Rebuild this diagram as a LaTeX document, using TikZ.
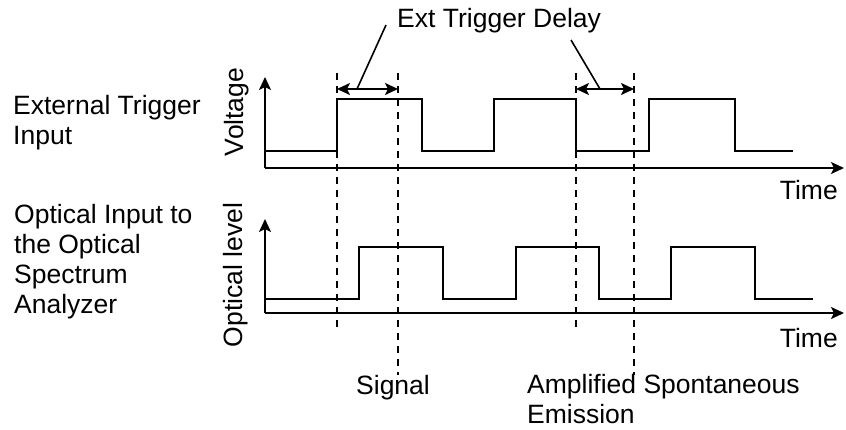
\documentclass[tikz,border=0pt]{standalone}
\usepackage{fontspec}
\setmainfont{Liberation Sans}
\usetikzlibrary{arrows.meta}
\begin{document}
\begin{tikzpicture}[x=1pt,y=-1pt,
  lbl/.style={font=\fontsize{26.5}{30}\selectfont, inner sep=0pt},
  wave/.style={line width=2pt, line join=miter},
  axis/.style={line width=2pt, -{Stealth[length=13pt,width=12pt,inset=3pt]}},
  guide/.style={line width=2pt, dash pattern=on 7pt off 6pt},
  delay/.style={line width=2pt, {Stealth[length=13pt,width=12pt,inset=3pt]}-{Stealth[length=13pt,width=12pt,inset=3pt]}},
  leader/.style={line width=1.6pt}]
\useasboundingbox (0,0) rectangle (846,429);

% axes
\coordinate (o1) at (265,168);
\coordinate (y1) at (265,77);
\coordinate (x1) at (844,168);
\coordinate (o2) at (265,313);
\coordinate (y2) at (265,219);
\coordinate (x2) at (844,313);
\draw[axis] (o1) -- (y1);
\draw[axis] (o1) -- (x1);
\draw[axis] (o2) -- (y2);
\draw[axis] (o2) -- (x2);

% waveforms
\draw[wave] (265,151) -- (337,151) -- (337,99) -- (422,99) -- (422,151) -- (494,151) -- (494,99) -- (576,99) -- (576,151) -- (649,151) -- (649,99) -- (735,99) -- (735,151) -- (793,151);
\draw[wave] (265,299) -- (359,299) -- (359,247) -- (443,247) -- (443,299) -- (516,299) -- (516,247) -- (599,247) -- (599,299) -- (671,299) -- (671,247) -- (755,247) -- (755,299) -- (813,299);

% guide lines
\coordinate (g1t) at (337,73);  \coordinate (g1b) at (337,333);
\coordinate (g2t) at (398,73);  \coordinate (g2b) at (398,375);
\coordinate (g3t) at (576,73);  \coordinate (g3b) at (576,333);
\coordinate (g4t) at (634,73);  \coordinate (g4b) at (634,375);
\draw[guide] (g1t) -- (g1b);
\draw[guide] (g2t) -- (g2b);
\draw[guide] (g3t) -- (g3b);
\draw[guide] (g4t) -- (g4b);

% delay arrows
\coordinate (d1a) at (337,89); \coordinate (d1b) at (398,89);
\coordinate (d2a) at (576,89); \coordinate (d2b) at (634,89);
\draw[delay] (d1a) -- (d1b);
\draw[delay] (d2a) -- (d2b);

% labels
\node[lbl, anchor=base west] (etd) at (397,27) {Ext Trigger Delay};
\coordinate (l1t) at (386,25); \coordinate (l1b) at (357,89);
\coordinate (l2t) at (571,40); \coordinate (l2b) at (600,89);
\draw[leader] (l1t) -- (l1b);
\draw[leader] (l2t) -- (l2b);

\node[lbl, anchor=base west] (eti1) at (13,114) {External Trigger};
\node[lbl, anchor=base west] (eti2) at (13,144) {Input};
\node[lbl, anchor=base west] (oi1) at (14,223) {Optical Input to};
\node[lbl, anchor=base west] (oi2) at (14,253) {the Optical};
\node[lbl, anchor=base west] (oi3) at (14,283) {Spectrum};
\node[lbl, anchor=base west] (oi4) at (14,313) {Analyzer};

\node[lbl, rotate=90, anchor=base] (volt) at (243,112) {Voltage};
\node[lbl, rotate=90, anchor=base] (opt) at (242,275) {Optical level};

\node[lbl, anchor=base east] (t1) at (838,199) {Time};
\node[lbl, anchor=base east] (t2) at (838,347) {Time};

\node[lbl, anchor=base west] (sig) at (356,394) {Signal};
\node[lbl, anchor=base west] (ase1) at (527,393) {Amplified Spontaneous};
\node[lbl, anchor=base west] (ase2) at (527,423) {Emission};
\end{tikzpicture}
\end{document}
